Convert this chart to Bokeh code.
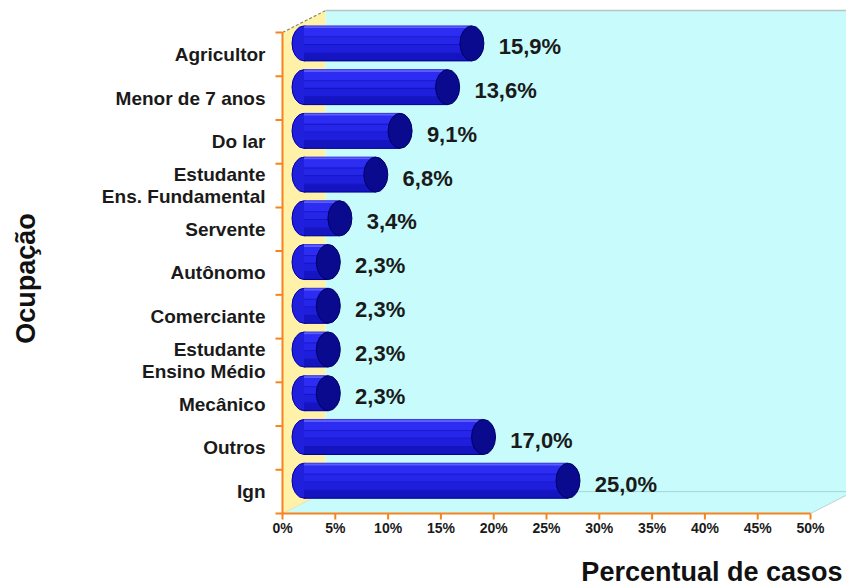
import numpy as np
from bokeh.plotting import figure
from bokeh.models import Range1d, ColumnDataSource
from bokeh.core.properties import value
from bokeh.embed import file_html
from bokeh.resources import INLINE

# ---------------- data ----------------
categories = ["Agricultor", "Menor de 7 anos", "Do lar", "Estudante\nEns. Fundamental",
              "Servente", "Autônomo", "Comerciante", "Estudante\nEnsino Médio",
              "Mecânico", "Outros", "Ign"]
values = [15.9, 13.6, 9.1, 6.8, 3.4, 2.3, 2.3, 2.3, 2.3, 17.0, 25.0]
x_ticks = [0, 5, 10, 15, 20, 25, 30, 35, 40, 45, 50]
x_tick_labels = ["0%", "5%", "10%", "15%", "20%", "25%", "30%", "35%", "40%", "45%", "50%"]
x_title = "Percentual de casos"
y_title = "Ocupação"

# ---------------- layout constants ----------------
W, H = 846, 587
PX_PER_PCT = 10.56
BAND_PX = 43.73
X0_PX = 282.0      # pixel of 0 %
Y0_PX = 513.0      # pixel (from top) of the floor front edge
XMAX = 50
DX = 43.0 / PX_PER_PCT   # depth offset (x, in %)
DY = 0.5                 # depth offset (y, in bands)
BAR_H = 0.8
CAP_W = 24.0 / PX_PER_PCT
FONT = value("Liberation Sans")

x_range = Range1d(-X0_PX / PX_PER_PCT, (W - X0_PX) / PX_PER_PCT)
y_range = Range1d(-(H - Y0_PX) / BAND_PX, Y0_PX / BAND_PX)

p = figure(width=W, height=H, x_range=x_range, y_range=y_range,
           output_backend="svg", toolbar_location=None,
           x_axis_type=None, y_axis_type=None, min_border=0)
p.outline_line_color = None
p.background_fill_color = "white"
p.border_fill_color = "white"

n = len(categories)
band = np.arange(n)[::-1].astype(float)        # first category at top
xe = x_range.end

# back wall
p.quad(left=DX, right=xe + 1, bottom=DY, top=n + DY, fill_color="#c8fcfc", line_color=None)
p.line([DX, xe + 1], [n + DY, n + DY], line_color="#b8c4c4", line_width=1.5)
# floor
p.patch([0, XMAX, XMAX + DX, DX], [0, 0, DY, DY], fill_color="#c8fcfc", line_color=None)
p.line([DX, XMAX + DX], [DY, DY], line_color="#a4d4d4", line_width=1)
p.line([XMAX, XMAX + DX], [0, DY], line_color="#c0d0d0", line_width=1)
# left wall
p.patch([0, DX, DX, 0], [0, DY, n + DY, n], fill_color="#fff2a8", line_color=None)
p.line([0, DX], [0, DY], line_color="#e8e0b0", line_width=1)
p.line([0, DX], [n, n + DY], line_color="#8a8a60", line_width=1.2, line_dash="3 2")

# ---------------- bars (cylinders) ----------------
s = DX / 2
bar_y = band + 0.5 + DY / 2
vals = np.array(values)
src = ColumnDataSource(dict(y=bar_y, left=np.full(n, s), right=vals + s, cat=categories))

p.ellipse(x=s, y="y", width=CAP_W, height=BAR_H, source=src,
          fill_color="#2020dc", line_color="#0000a0", line_width=1)
p.hbar(y="y", left="left", right="right", height=BAR_H, source=src,
       fill_color="#2222e2", line_color=None)

stripes = [(0.00, 0.07, "#5c5cff"), (0.07, 0.30, "#2c2cf2"), (0.30, 0.33, "#1a1ac8"),
           (0.33, 0.52, "#2626ea"), (0.52, 0.55, "#1616c0"), (0.55, 0.76, "#1e1edc"),
           (0.76, 0.79, "#1414b8"), (0.79, 1.00, "#1414c0")]
for a, b, c in stripes:
    yc = bar_y + BAR_H / 2 - BAR_H * (a + b) / 2
    p.hbar(y=yc, left=np.full(n, s), right=vals + s, height=BAR_H * (b - a),
           fill_color=c, line_color=None)
p.segment(x0=np.full(n, s), y0=bar_y + BAR_H / 2, x1=vals + s, y1=bar_y + BAR_H / 2,
          line_color="#3a3ae0", line_width=1)
p.segment(x0=np.full(n, s), y0=bar_y - BAR_H / 2, x1=vals + s, y1=bar_y - BAR_H / 2,
          line_color="#000090", line_width=1)
p.ellipse(x="right", y="y", width=CAP_W, height=BAR_H, source=src,
          fill_color="#0a0a8e", line_color="#000066", line_width=1)

# value labels
val_txt = [f"{v:.1f}".replace(".", ",") + "%" for v in values]
p.text(x=vals + s + CAP_W / 2 + 1.4, y=bar_y - 0.08, text=val_txt,
       text_font=FONT, text_font_style="bold", text_font_size="22px",
       text_color="#1a1a1a", text_align="left", text_baseline="middle")

# ---------------- axes ----------------
AX = "#f5841f"
p.line([0, XMAX], [0, 0], line_color=AX, line_width=2)
tick_len_y = 6.0 / BAND_PX
p.segment(x0=x_ticks, y0=[0] * len(x_ticks), x1=x_ticks, y1=[-tick_len_y] * len(x_ticks),
          line_color=AX, line_width=2)
p.text(x=x_ticks, y=[-14.0 / BAND_PX] * len(x_ticks), text=x_tick_labels,
       text_font=FONT, text_font_style="bold", text_font_size="14px",
       text_color="#1a1a1a", text_align="center", text_baseline="middle")

p.line([0, 0], [0, n], line_color=AX, line_width=2)
yt = np.arange(n + 1)
p.segment(x0=np.zeros(n + 1), y0=yt, x1=np.full(n + 1, -7.0 / PX_PER_PCT), y1=yt,
          line_color=AX, line_width=2)
p.text(x=np.full(n, -17.0 / PX_PER_PCT), y=band + 0.5, text=categories,
       text_font=FONT, text_font_style="bold", text_font_size="19px",
       text_color="#1a1a1a", text_align="right", text_baseline="middle",
       text_line_height=1.08)

# axis titles
p.text(x=[(W - 4 - X0_PX) / PX_PER_PCT], y=[-(571 - Y0_PX) / BAND_PX], text=[x_title],
       text_font=FONT, text_font_style="bold", text_font_size="27px",
       text_color="#111111", text_align="right", text_baseline="middle")
p.text(x=[(25 - X0_PX) / PX_PER_PCT], y=[(Y0_PX - 278) / BAND_PX], text=[y_title],
       angle=np.pi / 2, text_font=FONT, text_font_style="bold", text_font_size="27px",
       text_color="#111111", text_align="center", text_baseline="middle")

open("out.html", "w").write(file_html(p, INLINE))
